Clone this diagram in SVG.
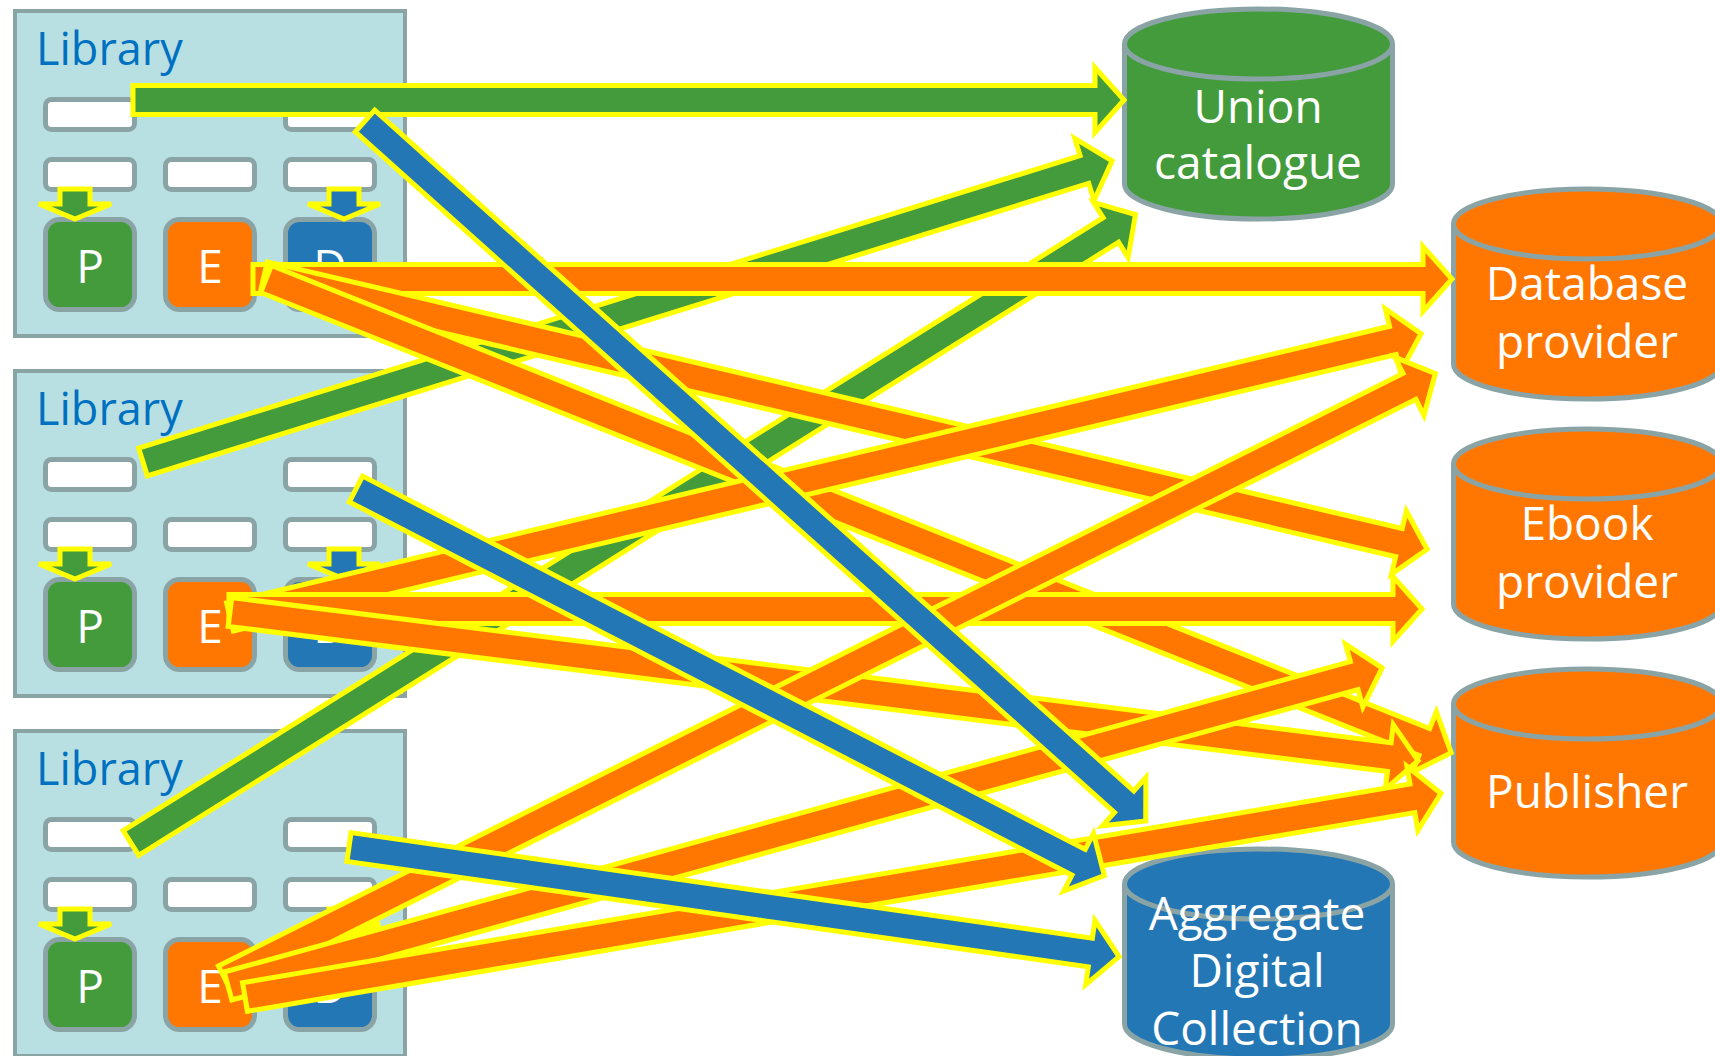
<svg xmlns="http://www.w3.org/2000/svg" width="1715" height="1056" viewBox="0 0 1715 1056">
<defs>
<style>
.lib{fill:#B8E0E3;stroke:#8AA4A6;stroke-width:4}
.slot{fill:#FFFFFF;stroke:#8AA4A6;stroke-width:5}
.box{stroke:#8AA4A6;stroke-width:5}
.pg{fill:#439B3C}.pe{fill:#FF7700}.pd{fill:#2377B5}
.lt{font-family:"Open Sans","DejaVu Sans",sans-serif;font-size:45px;fill:#0070C0}
.bl{font-family:"Open Sans","DejaVu Sans",sans-serif;font-size:46px;fill:#FFFFFF;text-anchor:middle}
.cyl{stroke:#8AA4A6;stroke-width:5}
.ct{font-family:"Open Sans","DejaVu Sans",sans-serif;font-size:46px;fill:#FFFFFF;text-anchor:middle}
.ar{stroke:#FFFF00;stroke-width:5;stroke-linejoin:miter}
.sa{stroke:#FFFF00;stroke-width:5;stroke-linejoin:miter}
.g{fill:#439B3C}.o{fill:#FF7700}.b{fill:#2377B5}
</style>
</defs>
<rect width="1715" height="1056" fill="#FFFFFF"/>

<g id="library1">
<rect class="lib" x="15" y="11" width="390" height="325"/>
<text class="lt" x="36" y="65">Library</text>
<rect class="slot" x="45.5" y="99.5" width="89" height="30" rx="6"/>
<rect class="slot" x="285.5" y="99.5" width="89" height="30" rx="6"/>
<rect class="slot" x="45.5" y="159.5" width="89" height="30" rx="6"/>
<rect class="slot" x="165.5" y="159.5" width="89" height="30" rx="6"/>
<rect class="slot" x="285.5" y="159.5" width="89" height="30" rx="6"/>
<rect class="box pg" x="45.5" y="219.5" width="89" height="90" rx="14"/>
<rect class="box pe" x="165.5" y="219.5" width="89" height="90" rx="14"/>
<rect class="box pd" x="285.5" y="219.5" width="89" height="90" rx="14"/>
<text class="bl" x="90" y="283">P</text>
<text class="bl" x="210" y="283">E</text>
<text class="bl" x="330" y="283">D</text>
<polygon class="sa g" points="60,189 90,189 90,204 111,204 75,219 39,204 60,204"/>
<polygon class="sa b" points="329,189 359,189 359,204 380,204 344,219 308,204 329,204"/>
</g>

<g id="library2" transform="translate(0,360)">
<rect class="lib" x="15" y="11" width="390" height="325"/>
<text class="lt" x="36" y="65">Library</text>
<rect class="slot" x="45.5" y="99.5" width="89" height="30" rx="6"/>
<rect class="slot" x="285.5" y="99.5" width="89" height="30" rx="6"/>
<rect class="slot" x="45.5" y="159.5" width="89" height="30" rx="6"/>
<rect class="slot" x="165.5" y="159.5" width="89" height="30" rx="6"/>
<rect class="slot" x="285.5" y="159.5" width="89" height="30" rx="6"/>
<rect class="box pg" x="45.5" y="219.5" width="89" height="90" rx="14"/>
<rect class="box pe" x="165.5" y="219.5" width="89" height="90" rx="14"/>
<rect class="box pd" x="285.5" y="219.5" width="89" height="90" rx="14"/>
<text class="bl" x="90" y="283">P</text>
<text class="bl" x="210" y="283">E</text>
<text class="bl" x="330" y="283">D</text>
<polygon class="sa g" points="60,189 90,189 90,204 111,204 75,219 39,204 60,204"/>
<polygon class="sa b" points="329,189 359,189 359,204 380,204 344,219 308,204 329,204"/>
</g>

<g id="library3" transform="translate(0,720)">
<rect class="lib" x="15" y="11" width="390" height="325"/>
<text class="lt" x="36" y="65">Library</text>
<rect class="slot" x="45.5" y="99.5" width="89" height="30" rx="6"/>
<rect class="slot" x="285.5" y="99.5" width="89" height="30" rx="6"/>
<rect class="slot" x="45.5" y="159.5" width="89" height="30" rx="6"/>
<rect class="slot" x="165.5" y="159.5" width="89" height="30" rx="6"/>
<rect class="slot" x="285.5" y="159.5" width="89" height="30" rx="6"/>
<rect class="box pg" x="45.5" y="219.5" width="89" height="90" rx="14"/>
<rect class="box pe" x="165.5" y="219.5" width="89" height="90" rx="14"/>
<rect class="box pd" x="285.5" y="219.5" width="89" height="90" rx="14"/>
<text class="bl" x="90" y="283">P</text>
<text class="bl" x="210" y="283">E</text>
<text class="bl" x="330" y="283">D</text>
<polygon class="sa g" points="60,189 90,189 90,204 111,204 75,219 39,204 60,204"/>
<polygon class="sa b" points="329,189 359,189 359,204 380,204 344,219 308,204 329,204"/>
</g>

<g id="union-catalogue">
<path class="cyl g" d="M1124.5,44 A134,35 0 0 1 1392.5,44 V184 A134,35 0 0 1 1124.5,184 Z"/>
<path class="cyl" fill="none" d="M1124.5,44 A134,35 0 0 0 1392.5,44"/>
<text class="ct" x="1258" y="123">Union</text>
<text class="ct" x="1258" y="179">catalogue</text>
</g>

<g id="database-provider">
<path class="cyl o" d="M1453.5,224 A134,35 0 0 1 1721.5,224 V364 A134,35 0 0 1 1453.5,364 Z"/>
<path class="cyl" fill="none" d="M1453.5,224 A134,35 0 0 0 1721.5,224"/>
<text class="ct" x="1587" y="300">Database</text>
<text class="ct" x="1587" y="358">provider</text>
</g>

<g id="ebook-provider">
<path class="cyl o" d="M1453.5,464 A134,35 0 0 1 1721.5,464 V604 A134,35 0 0 1 1453.5,604 Z"/>
<path class="cyl" fill="none" d="M1453.5,464 A134,35 0 0 0 1721.5,464"/>
<text class="ct" x="1587" y="540">Ebook</text>
<text class="ct" x="1587" y="598">provider</text>
</g>

<g id="publisher">
<path class="cyl o" d="M1453.5,704 A134,35 0 0 1 1721.5,704 V842 A134,35 0 0 1 1453.5,842 Z"/>
<path class="cyl" fill="none" d="M1453.5,704 A134,35 0 0 0 1721.5,704"/>
<text class="ct" x="1587" y="808">Publisher</text>
</g>

<g id="aggregate-digital-collection">
<path class="cyl b" d="M1124.5,884 A134,35 0 0 1 1392.5,884 V1024 A134,35 0 0 1 1124.5,1024 Z"/>
<path class="cyl" fill="none" d="M1124.5,884 A134,35 0 0 0 1392.5,884"/>
<text class="ct" x="1257" y="930">Aggregate</text>
<text class="ct" x="1257" y="987">Digital</text>
<text class="ct" x="1257" y="1045">Collection</text>
</g>

<g id="connectors">
<polygon class="ar g" transform="translate(133,100)" points="0,-14.5 962,-14.5 962,-32.5 991,0 962,32.5 962,14.5 0,14.5"/>
<polygon class="ar g" transform="translate(143,462) rotate(-17.26)" points="0,-14.5 985.8,-14.5 985.8,-32.5 1014.8,0 985.8,32.5 985.8,14.5 0,14.5"/>
<polygon class="ar g" transform="translate(131,843) rotate(-32.03)" points="0,-14.5 1155.8,-14.5 1155.8,-32.5 1184.8,0 1155.8,32.5 1155.8,14.5 0,14.5"/>
<polygon class="ar o" transform="translate(253,279)" points="0,-14.5 1170,-14.5 1170,-32.5 1199,0 1170,32.5 1170,14.5 0,14.5"/>
<polygon class="ar o" transform="translate(264,276) rotate(13.22)" points="0,-14.5 1165.8,-14.5 1165.8,-32.5 1194.8,0 1165.8,32.5 1165.8,14.5 0,14.5"/>
<polygon class="ar o" transform="translate(266,279) rotate(21.79)" points="0,-14.5 1247.4,-14.5 1247.4,-32.5 1276.4,0 1247.4,32.5 1247.4,14.5 0,14.5"/>
<polygon class="ar o" transform="translate(230,617) rotate(-13.38)" points="0,-14.5 1195.3,-14.5 1195.3,-32.5 1224.3,0 1195.3,32.5 1195.3,14.5 0,14.5"/>
<polygon class="ar o" transform="translate(229,609)" points="0,-14.5 1164,-14.5 1164,-32.5 1193,0 1164,32.5 1164,14.5 0,14.5"/>
<polygon class="ar o" transform="translate(230,612) rotate(7.13)" points="0,-14.5 1168.3,-14.5 1168.3,-32.5 1197.3,0 1168.3,32.5 1168.3,14.5 0,14.5"/>
<polygon class="ar o" transform="translate(225,979) rotate(-26.58)" points="0,-14.5 1324.4,-14.5 1324.4,-32.5 1353.4,0 1324.4,32.5 1324.4,14.5 0,14.5"/>
<polygon class="ar o" transform="translate(228,986) rotate(-15.41)" points="0,-14.5 1168.2,-14.5 1168.2,-32.5 1197.2,0 1168.2,32.5 1168.2,14.5 0,14.5"/>
<polygon class="ar b" transform="translate(365,121) rotate(41.88)" points="0,-14.5 1019.6,-14.5 1019.6,-32.5 1048.6,0 1019.6,32.5 1019.6,14.5 0,14.5"/>
<polygon class="ar o" transform="translate(245,997) rotate(-9.66)" points="0,-14.5 1184.2,-14.5 1184.2,-32.5 1213.2,0 1184.2,32.5 1184.2,14.5 0,14.5"/>
<polygon class="ar b" transform="translate(356,489) rotate(27.32)" points="0,-14.5 813.3,-14.5 813.3,-32.5 842.3,0 813.3,32.5 813.3,14.5 0,14.5"/>
<polygon class="ar b" transform="translate(349,847) rotate(8.10)" points="0,-14.5 748.8,-14.5 748.8,-32.5 777.8,0 748.8,32.5 748.8,14.5 0,14.5"/>
</g>
</svg>
